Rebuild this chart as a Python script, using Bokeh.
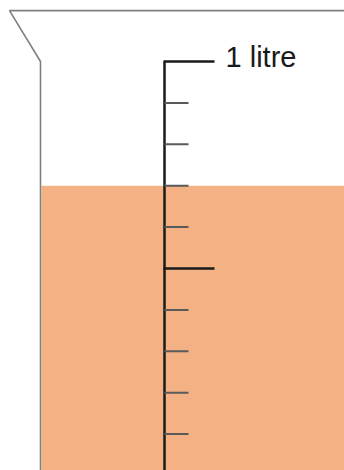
from bokeh.plotting import figure
from bokeh.models import Range1d
from bokeh.core.properties import value
from bokeh.embed import file_html
from bokeh.resources import INLINE

# Data
liquid_volume = 0.7            # litres
tick_values = [0.1, 0.2, 0.3, 0.4, 0.5, 0.6, 0.7, 0.8, 0.9, 1.0]
major_ticks = [0.5, 1.0]
label_text = "1 litre"
label_value = 1.0
rim_level = 1.123
wall_top_level = 1.0

PX = 414.0  # pixels per litre in the reference
def lit(ypx):
    return (475.0 - ypx) / PX

p = figure(width=344, height=470, output_backend="svg", toolbar_location=None,
           x_range=Range1d(0, 344), y_range=Range1d(lit(470), lit(0)),
           min_border=0, min_border_left=0, min_border_right=0,
           min_border_top=0, min_border_bottom=0)
p.axis.visible = False
p.grid.visible = False
p.outline_line_color = None
p.background_fill_color = "white"
p.border_fill_color = "white"

# liquid
p.quad(left=[41], right=[350], bottom=[lit(480)], top=[liquid_volume],
       fill_color="#F3B184", line_color=None)

# beaker outline
p.line(x=[350, 9, 40, 40], y=[rim_level, rim_level, wall_top_level, lit(480)],
       line_color="#7f7f7f", line_width=1.6)

# scale
p.line(x=[164, 164], y=[wall_top_level, lit(480)], line_color="#1a1a1a", line_width=2.5)
minor = [t for t in tick_values if t not in major_ticks]
p.segment(x0=[164] * len(minor), x1=[188] * len(minor), y0=minor, y1=minor,
          line_color="#5a5a5a", line_width=2)
p.segment(x0=[163] * len(major_ticks), x1=[214] * len(major_ticks),
          y0=major_ticks, y1=major_ticks, line_color="#1a1a1a", line_width=2.5)

p.text(x=[225], y=[label_value], text=[label_text], text_font=value("Liberation Sans"),
       text_font_size="29px", text_baseline="middle", y_offset=-5,
       text_color="#1a1a1a")

open("out.html", "w").write(file_html(p, INLINE))
